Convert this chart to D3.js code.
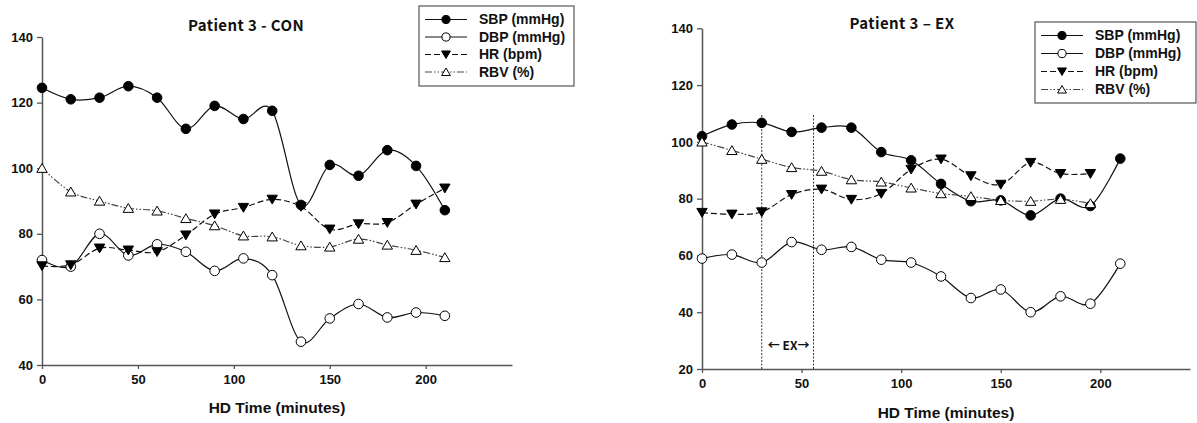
<!DOCTYPE html>
<html>
<head>
<meta charset="utf-8">
<script src="https://cdn.jsdelivr.net/npm/d3@7"></script>
<style>
  html, body { margin: 0; padding: 0; background: #fff; }
  svg { display: block; }
  .tick text { font-family: "Liberation Sans", Arial, sans-serif; font-weight: bold; font-size: 13px; fill: #111; }
</style>
</head>
<body>
<svg id="chart" width="1197" height="423"></svg>
<script>
// Sampling times during hemodialysis (minutes)
const timesCON = [0, 15, 30, 45, 60, 75, 90, 105, 120, 135, 150, 165, 180, 195, 210];
const timesEX  = [0, 15, 30, 45, 60, 75, 90, 105, 120, 135, 150, 165, 180, 195, 210];

// Control session
const sbpCON = [124.5, 121, 121.5, 125, 121.5, 112, 119, 115, 117.5, 88.8, 101, 97.7, 105.5, 100.7, 87.2];
const dbpCON = [72, 70, 80, 73.4, 76.8, 74.5, 68.7, 72.5, 67.4, 47.1, 54.2, 58.6, 54.5, 56, 55];
const hrCON  = [70.2, 70.5, 75.6, 75, 74.5, 79.6, 86, 88, 90.5, 88.3, 81.4, 83, 83.4, 89, 93.9];
const rbvCON = [100, 92.8, 90, 87.8, 87, 84.7, 82.5, 79.4, 79.1, 76.4, 76, 78.4, 76.6, 75, 72.8];

// Exercise session (HR and RBV recorded through 195 min)
const sbpEX = [102, 106.1, 106.7, 103.5, 105, 105, 96.4, 93.5, 85.2, 79.1, 79.4, 74.1, 80, 77.4, 94.1];
const dbpEX = [58.9, 60.3, 57.5, 64.7, 62, 63, 58.5, 57.5, 52.6, 45, 48, 40, 45.6, 43, 57.1];
const hrEX  = [75.1, 74.5, 75.3, 81.4, 83.3, 79.7, 81.8, 90.3, 93.9, 88, 85, 92.7, 88.8, 88.8];
const rbvEX = [100, 97, 93.9, 91, 89.7, 86.7, 85.9, 83.8, 81.8, 80.8, 79.4, 79.1, 79.8, 78.3];

// Exercise window (minutes) and its upper marker level
const exWindow = [30, 56];
const exTop = 109.5;

const xTicks = [0, 50, 100, 150, 200];
const yTicksCON = [40, 60, 80, 100, 120, 140];
const yTicksEX = [20, 40, 60, 80, 100, 120, 140];

const seriesNames = ["SBP (mmHg)", "DBP (mmHg)", "HR (bpm)", "RBV (%)"];

const svg = d3.select("#chart");

const styles = [
  { dash: null, marker: "circle", fill: "#000" },
  { dash: null, marker: "circle", fill: "#fff" },
  { dash: "6,3", marker: "down", fill: "#000" },
  { dash: "7,2,1.5,2,1.5,2", marker: "up", fill: "#fff" }
];

function drawMarker(g, type, fill, x, y, k = 1) {
  if (type === "circle") {
    g.append("circle").attr("cx", x).attr("cy", y).attr("r", 4.8 * k)
      .attr("fill", fill).attr("stroke", "#000").attr("stroke-width", 1);
  } else {
    const s = 5.2 * k;
    const pts = type === "down"
      ? [[x - s, y - s * 0.8], [x + s, y - s * 0.8], [x, y + s * 0.9]]
      : [[x - s, y + s * 0.8], [x + s, y + s * 0.8], [x, y - s * 0.9]];
    g.append("polygon").attr("points", pts.map(p => p.join(",")).join(" "))
      .attr("fill", fill).attr("stroke", "#000").attr("stroke-width", 1);
  }
}

function drawPanel(p) {
  const x = d3.scaleLinear().domain([0, 245]).range([p.x0, p.x1]);
  const y = d3.scaleLinear().domain(p.yDomain).range([p.y0, p.y1]);
  const g = svg.append("g");

  // axes
  const xAxis = g.append("g").attr("transform", `translate(0,${p.y0})`)
    .call(d3.axisBottom(x).tickValues(xTicks).tickSize(4).tickPadding(6).tickSizeOuter(0));
  const yAxis = g.append("g").attr("transform", `translate(${p.x0},0)`)
    .call(d3.axisLeft(y).tickValues(p.yTicks).tickSize(5).tickPadding(4).tickSizeOuter(0));
  [xAxis, yAxis].forEach(a => {
    a.select(".domain").attr("stroke", "#555").attr("stroke-width", 1.5);
    a.selectAll(".tick line").attr("stroke", "#555").attr("stroke-width", 1.3);
  });

  // exercise window markers
  if (p.exWindow) {
    p.exWindow.forEach(t => {
      g.append("line").attr("x1", x(t)).attr("x2", x(t))
        .attr("y1", y(p.yDomain[0])).attr("y2", y(p.exTop))
        .attr("stroke", "#333").attr("stroke-width", 1).attr("stroke-dasharray", "2,1.5");
    });
    g.append("text").attr("x", (x(p.exWindow[0]) + x(p.exWindow[1])) / 2 + 1).attr("y", 350)
      .attr("text-anchor", "middle").attr("font-family", "'Noto Sans CJK KR', 'Noto Sans', sans-serif")
      .attr("font-weight", "bold").attr("font-size", 12).attr("fill", "#111").text("\u2190 EX\u2192");
  }

  // series
  const line = d3.line().x(d => x(d[0])).y(d => y(d[1])).curve(d3.curveCardinal.tension(0));
  p.series.forEach((vals, i) => {
    const pts = vals.map((v, j) => [p.times[j], v]);
    const st = styles[i];
    g.append("path").attr("d", line(pts)).attr("fill", "none")
      .attr("stroke", i === 3 ? "#444" : "#111").attr("stroke-width", 1.2)
      .attr("stroke-dasharray", st.dash);
  });
  p.series.forEach((vals, i) => {
    const st = styles[i];
    vals.forEach((v, j) => drawMarker(g, st.marker, st.fill, x(p.times[j]), y(v)));
  });

  // title
  g.append("text").attr("x", p.titleX).attr("y", p.titleY).attr("text-anchor", "middle")
    .attr("font-family", "'Noto Sans CJK KR', 'Noto Sans', sans-serif").attr("font-weight", "bold")
    .attr("font-size", 15).attr("letter-spacing", 0.4).attr("fill", "#111").text(p.title);

  // x label
  g.append("text").attr("x", (p.x0 + p.x1) / 2).attr("y", p.xLabelY).attr("text-anchor", "middle")
    .attr("font-family", "'Liberation Sans', Arial, sans-serif").attr("font-weight", "bold")
    .attr("font-size", 15.5).attr("fill", "#111").text("HD Time (minutes)");

  // legend
  const L = p.legend;
  g.append("rect").attr("x", L.x).attr("y", L.y).attr("width", L.w).attr("height", L.h)
    .attr("fill", "#fff").attr("stroke", "#555").attr("stroke-width", 1.2);
  seriesNames.forEach((name, i) => {
    const cy = L.y + 13.5 + i * L.step;
    const st = styles[i];
    g.append("line").attr("x1", L.x + 6).attr("x2", L.x + 48).attr("y1", cy).attr("y2", cy)
      .attr("stroke", i === 3 ? "#444" : "#111").attr("stroke-width", 1.2).attr("stroke-dasharray", st.dash);
    drawMarker(g, st.marker, st.fill, L.x + 27, cy, 0.85);
    g.append("text").attr("x", L.x + 60).attr("y", cy).attr("dy", "0.35em")
      .attr("font-family", "'Liberation Sans', Arial, sans-serif").attr("font-weight", "bold")
      .attr("font-size", 14).attr("fill", "#111").text(name);
  });
}

drawPanel({
  title: "Patient 3 - CON", titleX: 246, titleY: 31,
  x0: 42, x1: 512, y0: 365, y1: 37, yDomain: [40, 140], yTicks: yTicksCON,
  times: timesCON, series: [sbpCON, dbpCON, hrCON, rbvCON],
  xLabelY: 413,
  legend: { x: 419, y: 6, w: 155, h: 80, step: 17.5 }
});

drawPanel({
  title: "Patient 3 \u2013 EX", titleX: 902, titleY: 29,
  x0: 702, x1: 1190, y0: 369, y1: 28.3, yDomain: [20, 140], yTicks: yTicksEX,
  times: timesEX, series: [sbpEX, dbpEX, hrEX, rbvEX],
  xLabelY: 418,
  exWindow: exWindow, exTop: exTop,
  legend: { x: 1035, y: 22, w: 161, h: 81, step: 18 }
});
</script>
</body>
</html>
